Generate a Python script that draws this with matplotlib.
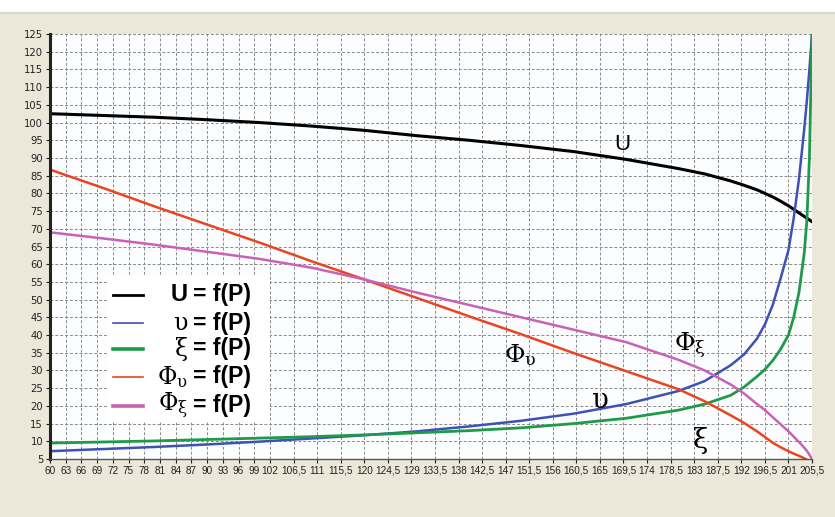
import matplotlib.pyplot as plt
from matplotlib.patches import Rectangle
from matplotlib import font_manager

plt.rcParams['mathtext.fontset'] = 'dejavuserif'

p = [60, 70, 80, 90, 100, 110, 120, 130, 140, 150, 160, 170, 180,
     185, 190, 192.5, 195, 196.5, 198, 199.5, 201, 202, 203, 204, 204.5, 205, 205.5]

u = [102.5, 102, 101.5, 100.8, 100, 99, 97.8, 96.3, 95, 93.5, 91.8, 89.6, 87,
     85.5, 83.5, 82.3, 81, 80, 79, 77.8, 76.5, 75.5, 74.5, 73.5, 73, 72.5, 72]
ups = [7.2, 7.8, 8.4, 9.1, 9.9, 10.8, 11.7, 12.8, 14.2, 15.8, 17.8, 20.5, 24.2,
       27, 31.5, 34.5, 39, 43, 48.5, 56, 64, 73, 84, 98, 106, 115, 125]
xi = [9.5, 9.8, 10.1, 10.5, 10.9, 11.3, 11.8, 12.4, 13, 13.8, 15, 16.5, 18.8,
      20.5, 23, 25.3, 28.3, 30.3, 32.8, 36, 40, 45, 52, 63, 72, 90, 125]
phi_ups = [86.7, 81.6, 76.3, 71.2, 66.1, 60.8, 55.7, 50.5, 45.3, 40.2, 34.9, 29.8, 24.7,
           21.3, 17.3, 15.2, 12.8, 11.2, 9.6, 8.3, 7.2, 6.5, 5.9, 5.2, 4.8, 4.4, 4]
phi_xi = [69, 67.3, 65.5, 63.5, 61.5, 59, 55.7, 52, 48.5, 45, 41.5, 38, 33,
          30, 26, 23.5, 20.5, 18.8, 16.8, 14.8, 12.8, 11.3, 9.8, 8.2, 7.3, 6.2, 5]

xticks = [60, 63, 66, 69, 72, 75, 78, 81, 84, 87, 90, 93, 96, 99, 102,
          106.5, 111, 115.5, 120, 124.5, 129, 133.5, 138, 142.5, 147, 151.5,
          156, 160.5, 165, 169.5, 174, 178.5, 183, 187.5, 192, 196.5, 201, 205.5]
yticks = list(range(5, 130, 5))

names = [r'U', r'$\mathrm{υ}$', r'$\mathrm{ξ}$', r'$\mathrm{\Phi}_{\mathrm{υ}}$', r'$\mathrm{\Phi}_{\mathrm{ξ}}$']
colors = ['black', '#3d52b4', '#1f9a48', '#ea4420', '#c862b6']
series = [u, ups, xi, phi_ups, phi_xi]
widths = [2.2, 1.8, 2.0, 1.8, 1.8]

installed = {f.name for f in font_manager.fontManager.ttflist}
tick_font = 'Liberation Sans Narrow' if 'Liberation Sans Narrow' in installed else 'Liberation Sans'

fig = plt.figure(figsize=(8.35, 5.17), dpi=100, facecolor='#ebe7d9')
fig.patches.append(Rectangle((0, 0.975), 1, 0.025, transform=fig.transFigure,
                             facecolor='white', edgecolor='none', zorder=0))
fig.patches.append(Rectangle((0, 0.972), 1, 0.004, transform=fig.transFigure,
                             facecolor='#d8d6cc', edgecolor='none', zorder=0))

ax = fig.add_axes([0.0599, 0.1122, 0.9126, 0.822])
ax.set_facecolor('#fbfdff')

for ys, c, w in zip(series, colors, widths):
    ax.plot(p, ys, color=c, lw=w, solid_joinstyle='round')

ax.set_xlim(60, 205.5)
ax.set_ylim(5, 125)
ax.set_xticks(xticks)
ax.set_xticklabels([str(v).replace('.', ',') if v % 1 else str(int(v)) for v in xticks],
                   family=tick_font, fontsize=7.2)
ax.set_yticks(yticks)
ax.tick_params(labelsize=7.2, length=3, width=0.8, colors='#222222', pad=2)
ax.grid(True, color='#8a8a8a', lw=0.7, linestyle=(0, (3, 2)))

for side in ['top', 'right']:
    ax.spines[side].set_visible(False)
ax.spines['left'].set_linewidth(2.2)
ax.spines['left'].set_color('#222222')
ax.spines['bottom'].set_linewidth(1.0)
ax.spines['bottom'].set_color('#555555')

# curve captions
ax.text(169.2, 93.7, 'U', ha='center', va='center', fontsize=16, family='Liberation Sans')
ax.text(149.7, 34.3, names[3], ha='center', va='center', fontsize=18)
ax.text(165, 21.6, names[1], ha='center', va='center', fontsize=20)
ax.text(182.2, 37.1, names[4], ha='center', va='center', fontsize=18)
ax.text(184.1, 10.3, names[2], ha='center', va='center', fontsize=20)

# legend box, drawn by hand so the "=" signs line up
ax.add_patch(Rectangle((0.075, 0.087), 0.214, 0.344, transform=ax.transAxes,
                       facecolor='white', edgecolor='none', zorder=3))
rows = [0.386, 0.320, 0.259, 0.193, 0.125]
legend_w = [2.0, 1.2, 2.6, 1.2, 2.6]
for name, c, w, ry in zip(names, colors, legend_w, rows):
    ax.plot([0.083, 0.122], [ry, ry], transform=ax.transAxes, color=c, lw=w, zorder=4)
    ax.text(0.181, ry, name, transform=ax.transAxes, ha='right', va='center',
            fontsize=17, family='Liberation Sans', weight='bold', zorder=5)
    ax.text(0.187, ry, '= f(P)', transform=ax.transAxes, ha='left', va='center',
            fontsize=16.5, family='Liberation Sans', weight='bold', zorder=5)

fig.savefig('out.png', dpi=100, facecolor=fig.get_facecolor())
